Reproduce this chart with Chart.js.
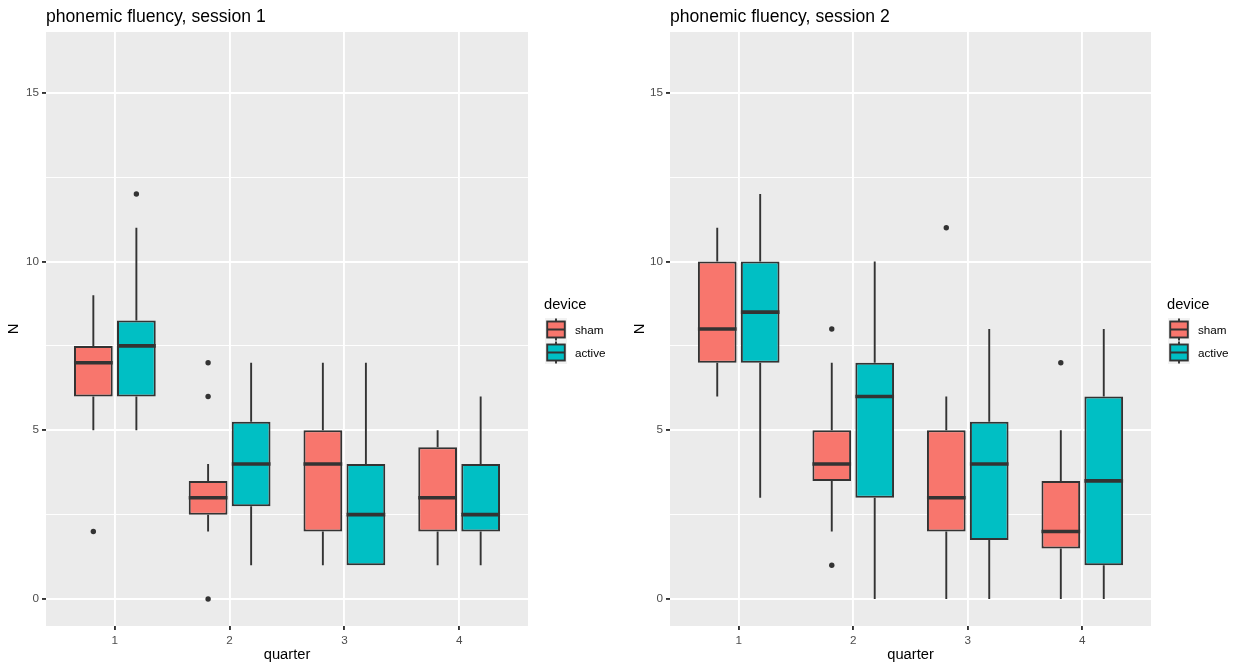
<!DOCTYPE html>
<html>
<head>
<meta charset="utf-8">
<script src="https://cdn.jsdelivr.net/npm/chart.js@4.4.0/dist/chart.umd.min.js"></script>
<style>
  body { margin: 0; background: #fff; overflow: hidden; }
  .wrap { display: flex; width: 1241px; height: 669px; }
  canvas { display: block; }
</style>
</head>
<body>
<div class="wrap">
  <canvas id="s1" width="620" height="669"></canvas>
  <canvas id="s2" width="621" height="669"></canvas>
</div>
<script>
const quarters = [1, 2, 3, 4];
const devices = ["sham", "active"];
const fills = ["#F8766D", "#00BFC4"];
const yTicks = [0, 2.5, 5, 7.5, 10, 12.5, 15];

// session 1, box stats per quarter
const s1ShamLow = [5, 2, 1, 1];
const s1ShamQ1 = [6, 2.5, 2, 2];
const s1ShamMed = [7, 3, 4, 3];
const s1ShamQ3 = [7.5, 3.5, 5, 4.5];
const s1ShamHigh = [9, 4, 7, 5];
const s1ShamOut = [[2], [0, 6, 7], [], []];

const s1ActiveLow = [5, 1, 1, 1];
const s1ActiveQ1 = [6, 2.75, 1, 2];
const s1ActiveMed = [7.5, 4, 2.5, 2.5];
const s1ActiveQ3 = [8.25, 5.25, 4, 4];
const s1ActiveHigh = [11, 7, 7, 6];
const s1ActiveOut = [[12], [], [], []];

// session 2
const s2ShamLow = [6, 2, 0, 0];
const s2ShamQ1 = [7, 3.5, 2, 1.5];
const s2ShamMed = [8, 4, 3, 2];
const s2ShamQ3 = [10, 5, 5, 3.5];
const s2ShamHigh = [11, 7, 6, 5];
const s2ShamOut = [[], [1, 8], [11], [7]];

const s2ActiveLow = [3, 0, 0, 0];
const s2ActiveQ1 = [7, 3, 1.75, 1];
const s2ActiveMed = [8.5, 6, 4, 3.5];
const s2ActiveQ3 = [10, 7, 5.25, 6];
const s2ActiveHigh = [12, 10, 8, 8];
const s2ActiveOut = [[], [], [], []];

Chart.defaults.font.family = "'Liberation Sans', Arial, sans-serif";

const ink = "#333333";

// panel background, whiskers, medians, outliers, title and the device legend
const boxParts = {
  id: "boxParts",
  beforeDraw(chart) {
    const {ctx, chartArea: a} = chart;
    ctx.save();
    ctx.fillStyle = "#EBEBEB";
    ctx.fillRect(a.left, a.top, a.right - a.left, a.bottom - a.top);
    ctx.restore();
  },
  afterDatasetsDraw(chart) {
    const {ctx} = chart;
    const y = chart.scales.y;
    ctx.save();
    ctx.strokeStyle = ink;
    ctx.fillStyle = ink;
    chart.data.datasets.forEach((ds, d) => {
      const st = ds.stats;
      chart.getDatasetMeta(d).data.forEach((bar, i) => {
        const x = bar.x, half = bar.width / 2;
        ctx.lineWidth = 1.9;
        ctx.beginPath();
        ctx.moveTo(x, y.getPixelForValue(st.q3[i]));
        ctx.lineTo(x, y.getPixelForValue(st.high[i]));
        ctx.moveTo(x, y.getPixelForValue(st.q1[i]));
        ctx.lineTo(x, y.getPixelForValue(st.low[i]));
        ctx.stroke();
        ctx.lineWidth = 3.6;
        ctx.beginPath();
        const ym = y.getPixelForValue(st.med[i]);
        ctx.moveTo(x - half, ym);
        ctx.lineTo(x + half, ym);
        ctx.stroke();
        st.out[i].forEach(v => {
          ctx.beginPath();
          ctx.arc(x, y.getPixelForValue(v), 2.7, 0, Math.PI * 2);
          ctx.fill();
        });
      });
    });
    ctx.restore();
  },
  afterDraw(chart, args, opts) {
    const {ctx, chartArea: a} = chart;
    ctx.save();
    ctx.fillStyle = "#000";
    ctx.textBaseline = "alphabetic";
    ctx.font = "17.6px 'Liberation Sans', Arial, sans-serif";
    ctx.fillText(opts.title, a.left, 22);

    // legend
    const lx = a.right + 16;
    ctx.font = "14.7px 'Liberation Sans', Arial, sans-serif";
    ctx.fillText("device", lx, 309);
    const kw = 22, kh = 23;
    devices.forEach((name, d) => {
      const kx = lx + 1, ky = 318 + d * kh;
      const bx = kx + 0.1 * kw, bw = 0.8 * kw, by = ky + 3.5, bh = 16;
      ctx.fillStyle = "#F2F2F2";
      ctx.fillRect(kx, ky, kw, kh);
      ctx.fillStyle = fills[d];
      ctx.strokeStyle = ink;
      ctx.lineWidth = 1.9;
      ctx.fillRect(bx, by, bw, bh);
      ctx.strokeRect(bx, by, bw, bh);
      ctx.beginPath();
      ctx.moveTo(bx, by + bh / 2);
      ctx.lineTo(bx + bw, by + bh / 2);
      ctx.moveTo(kx + kw / 2, ky + 0.5);
      ctx.lineTo(kx + kw / 2, by);
      ctx.moveTo(kx + kw / 2, by + bh);
      ctx.lineTo(kx + kw / 2, ky + kh - 0.5);
      ctx.stroke();
      ctx.fillStyle = "#000";
      ctx.font = "11.7px 'Liberation Sans', Arial, sans-serif";
      ctx.textBaseline = "middle";
      ctx.fillText(name, lx + 31, ky + kh / 2 + 1);
      ctx.textBaseline = "alphabetic";
    });
    ctx.restore();
  }
};

function panel(id, title, sham, active, yWidth, rightPad, yTitlePad) {
  const canvas = document.getElementById(id);
  return new Chart(canvas, {
    type: "bar",
    data: {
      datasets: [sham, active].map((st, d) => ({
        label: devices[d],
        data: quarters.map((q, i) => ({x: q, y: [st.q1[i], st.q3[i]]})),
        stats: st,
        backgroundColor: fills[d],
        borderColor: ink,
        borderWidth: 2,
        borderSkipped: false,
        categoryPercentage: 0.75,
        barPercentage: 0.9
      }))
    },
    options: {
      responsive: false,
      animation: false,
      devicePixelRatio: 1,
      layout: {padding: {top: 32, right: rightPad, left: 0, bottom: 0}},
      plugins: {
        legend: {display: false},
        tooltip: {enabled: false},
        boxParts: {title: title}
      },
      scales: {
        x: {
          type: "linear",
          min: 0.4,
          max: 4.6,
          offset: false,
          afterBuildTicks: s => { s.ticks = quarters.map(v => ({value: v})); },
          afterFit: s => { s.height = 43; },
          grid: {offset: false, color: "#FFFFFF", lineWidth: 1.9, tickColor: ink, tickLength: 4, tickWidth: 1.9},
          border: {display: false},
          ticks: {color: "#4D4D4D", font: {size: 11.7}, padding: 4, autoSkip: false, maxRotation: 0},
          title: {display: true, text: "quarter", color: "#000", font: {size: 14.7, lineHeight: 1.2}, padding: {top: 0, bottom: 5}}
        },
        y: {
          min: -0.8,
          max: 16.8,
          afterBuildTicks: s => { s.ticks = yTicks.map(v => ({value: v})); },
          afterFit: s => { s.width = yWidth; },
          grid: {
            color: "#FFFFFF",
            lineWidth: c => (c.tick && c.tick.value % 5 === 0 ? 1.9 : 0.95),
            tickColor: c => (c.tick && c.tick.value % 5 === 0 ? ink : "rgba(0,0,0,0)"),
            tickLength: 4,
            tickWidth: 1.9
          },
          border: {display: false},
          ticks: {
            color: "#4D4D4D",
            font: {size: 11.7},
            padding: 3,
            autoSkip: false,
            callback: v => (v % 5 === 0 ? v : "")
          },
          title: {display: true, text: "N", color: "#000", font: {size: 14.7, lineHeight: 1.2}, padding: {top: yTitlePad, bottom: 0}}
        }
      }
    },
    plugins: [boxParts]
  });
}

const stats = (low, q1, med, q3, high, out) => ({low, q1, med, q3, high, out});

panel("s1", "phonemic fluency, session 1",
  stats(s1ShamLow, s1ShamQ1, s1ShamMed, s1ShamQ3, s1ShamHigh, s1ShamOut),
  stats(s1ActiveLow, s1ActiveQ1, s1ActiveMed, s1ActiveQ3, s1ActiveHigh, s1ActiveOut),
  46, 92, 5.2);

panel("s2", "phonemic fluency, session 2",
  stats(s2ShamLow, s2ShamQ1, s2ShamMed, s2ShamQ3, s2ShamHigh, s2ShamOut),
  stats(s2ActiveLow, s2ActiveQ1, s2ActiveMed, s2ActiveQ3, s2ActiveHigh, s2ActiveOut),
  50, 90, 11.2);
</script>
</body>
</html>
